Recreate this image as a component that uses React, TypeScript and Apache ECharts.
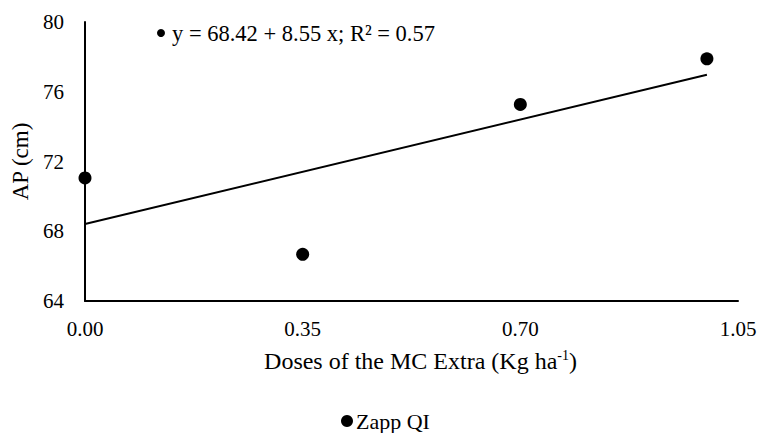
import React, { useEffect, useRef } from "react";
import * as echarts from "echarts";

const doses = [0, 0.35, 0.7, 1.0];
const apValues = [71.06, 66.68, 75.27, 77.89];
const seriesName = "Zapp QI";
const intercept = 68.42;
const slope = 8.55;
const r2 = 0.57;
const fitRange = [0, 1.0];

const FONT = "Liberation Serif";

export default function App() {
  const ref = useRef<HTMLDivElement>(null);
  useEffect(() => {
    if (!ref.current) return;
    document.body.style.overflow = "hidden";
    const chart = echarts.init(ref.current, null, { renderer: "svg" });
    const fitLine = fitRange.map((x) => [x, +(intercept + slope * x).toFixed(3)]);
    chart.setOption({
      animation: false,
      textStyle: { fontFamily: FONT, color: "#000" },
      grid: {
        left: 77,
        right: 27,
        top: 14,
        bottom: 132,
        containLabel: false,
        outerBoundsMode: "none",
      },
      legend: {
        top: 397,
        left: 328,
        data: [{ name: seriesName, icon: "circle" }],
        itemWidth: 12,
        itemHeight: 12,
        itemGap: 4,
        textStyle: { fontFamily: FONT, fontSize: 22, color: "#000", padding: [0, 0, 0, -2] },
      },
      xAxis: {
        type: "value",
        min: 0,
        max: 1.05,
        interval: 0.35,
        axisLine: { show: true, lineStyle: { color: "#000", width: 2 } },
        axisTick: { show: false },
        splitLine: { show: false },
        axisLabel: {
          formatter: (v: number) => v.toFixed(2),
          fontFamily: FONT,
          fontSize: 21,
          color: "#000",
          margin: 17,
        },
        name: "Doses of the MC Extra (Kg ha{sup|-1})",
        nameLocation: "middle",
        nameGap: 47,
        nameTextStyle: {
          fontFamily: FONT,
          fontSize: 24,
          color: "#000",
          padding: [0, 0, 0, 18],
          rich: {
            sup: { fontFamily: FONT, fontSize: 14, color: "#000", padding: [0, 0, 11, 0] },
          },
        },
      },
      yAxis: {
        type: "value",
        min: 64,
        max: 80,
        interval: 4,
        axisLine: { show: true, lineStyle: { color: "#000", width: 2 } },
        axisTick: { show: false },
        splitLine: { show: false },
        axisLabel: { fontFamily: FONT, fontSize: 21, color: "#000", margin: 21 },
        name: "AP (cm)",
        nameLocation: "middle",
        nameGap: 51,
        nameRotate: 90,
        nameTextStyle: { fontFamily: FONT, fontSize: 23, color: "#000" },
      },
      graphic: [
        { type: "circle", shape: { cx: 153, cy: 25, r: 4 }, style: { fill: "#000" } },
        {
          type: "text",
          x: 164,
          y: 25,
          style: {
            text: `y = ${intercept.toFixed(2)} + ${slope.toFixed(2)} x; R² = ${r2.toFixed(2)}`,
            fontFamily: FONT,
            fontSize: 22.5,
            fill: "#000",
            verticalAlign: "middle",
          },
        },
      ],
      series: [
        {
          type: "line",
          name: "fit",
          data: fitLine,
          symbol: "none",
          lineStyle: { color: "#000", width: 2 },
          silent: true,
        },
        {
          type: "scatter",
          name: seriesName,
          data: doses.map((d, i) => [d, apValues[i]]),
          symbol: "circle",
          symbolSize: 13,
          itemStyle: { color: "#000", opacity: 1 },
        },
      ],
    });
    return () => chart.dispose();
  }, []);
  return <div ref={ref} style={{ width: 757, height: 425 }} />;
}
